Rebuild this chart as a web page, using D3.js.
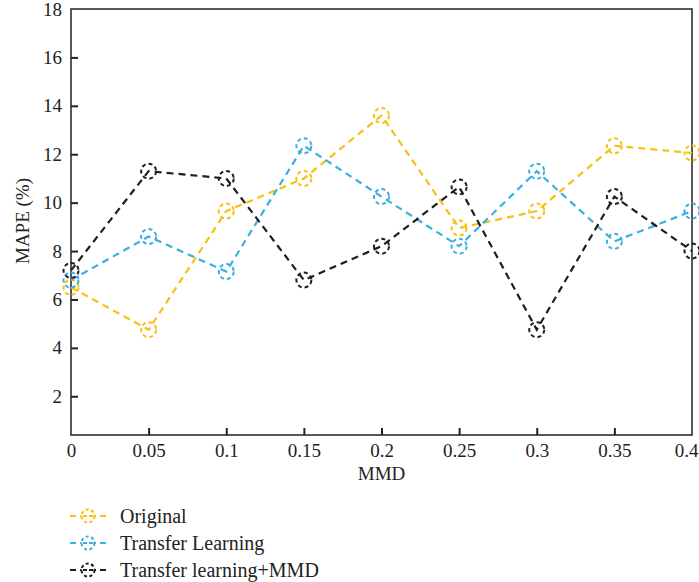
<!DOCTYPE html>
<html>
<head>
<meta charset="utf-8">
<script src="https://cdn.jsdelivr.net/npm/d3@7"></script>
<style>
  body { margin: 0; background: #fff; }
  text { font-family: "Liberation Serif", "DejaVu Serif", serif; fill: #222; }
</style>
</head>
<body>
<script>
// data
var mmd = [0, 0.05, 0.1, 0.15, 0.2, 0.25, 0.3, 0.35, 0.4];
var original = [6.5, 4.75, 9.65, 11.0, 13.6, 8.95, 9.65, 12.35, 12.05];
var transfer = [6.8, 8.6, 7.15, 12.35, 10.25, 8.2, 11.3, 8.4, 9.65];
var transferMMD = [7.2, 11.3, 11.0, 6.8, 8.2, 10.65, 4.75, 10.25, 8.0];
var seriesNames = ["Original", "Transfer Learning", "Transfer learning+MMD"];
var yTicks = [2, 4, 6, 8, 10, 12, 14, 16, 18];

var colors = ["#f9bf0f", "#3aafe2", "#1e1e1e"];
var allSeries = [original, transfer, transferMMD];

var W = 699, H = 582;
var margin = {left: 71, right: 7, top: 9, bottom: 147};

var svg = d3.select("body").append("svg")
    .attr("width", W)
    .attr("height", H);

var x = d3.scaleLinear().domain([0, 0.4]).range([margin.left, W - margin.right]);
var y = d3.scaleLinear().domain([0.4, 18]).range([H - margin.bottom, margin.top]);

// frame
svg.append("rect")
    .attr("x", x(0)).attr("y", y(18))
    .attr("width", x(0.4) - x(0)).attr("height", y(0.4) - y(18))
    .attr("fill", "none").attr("stroke", "#222").attr("stroke-width", 1.5);

// y axis
var yAxis = svg.append("g")
    .attr("transform", "translate(" + x(0) + ",0)")
    .call(d3.axisLeft(y).tickValues(yTicks).tickSizeInner(-7).tickSizeOuter(0).tickPadding(9));
yAxis.select(".domain").remove();
yAxis.selectAll("line").attr("stroke", "#222").attr("stroke-width", 2)
    .filter(function(d) { return d === 18; }).remove();
yAxis.selectAll("text").style("font-size", "19px").style("font-family", "Liberation Serif, serif").attr("fill", "#222");

// x axis
var xAxis = svg.append("g")
    .attr("transform", "translate(0," + y(0.4) + ")")
    .call(d3.axisBottom(x).tickValues(mmd).tickFormat(function(d) { return String(+d.toFixed(2)); })
        .tickSizeInner(-7).tickSizeOuter(0).tickPadding(9));
xAxis.select(".domain").remove();
xAxis.selectAll("line").attr("stroke", "#222").attr("stroke-width", 2)
    .filter(function(d) { return d === 0 || d === 0.4; }).remove();
xAxis.selectAll("text").style("font-size", "19px").style("font-family", "Liberation Serif, serif").attr("fill", "#222");
// last label sits against the right edge
xAxis.selectAll("text").filter(function(d) { return d === 0.4; })
    .attr("text-anchor", "end").attr("x", W - 1 - x(0.4));

// axis titles
svg.append("text")
    .attr("x", (x(0) + x(0.4)) / 2).attr("y", 480)
    .attr("text-anchor", "middle").style("font-size", "19px")
    .text("MMD");

svg.append("text")
    .attr("transform", "translate(29," + 221 + ") rotate(-90)")
    .attr("text-anchor", "middle").style("font-size", "19px")
    .text("MAPE (%)");

// lines
var line = d3.line()
    .x(function(d, i) { return x(mmd[i]); })
    .y(function(d) { return y(d); });

allSeries.forEach(function(s, k) {
  var g = svg.append("g");
  g.append("path")
      .datum(s)
      .attr("d", line)
      .attr("fill", "none")
      .attr("stroke", colors[k])
      .attr("stroke-width", 2.2)
      .attr("stroke-dasharray", "7,5");
  g.selectAll("circle")
      .data(s)
    .enter().append("circle")
      .attr("cx", function(d, i) { return x(mmd[i]); })
      .attr("cy", function(d) { return y(d); })
      .attr("r", 7.5)
      .attr("fill", "none")
      .attr("stroke", colors[k])
      .attr("stroke-width", 2)
      .attr("stroke-dasharray", "4,3");
});

// legend
var legend = svg.selectAll(".legend")
    .data(seriesNames)
  .enter().append("g")
    .attr("class", "legend")
    .attr("transform", function(d, i) { return "translate(0," + (516 + i * 27) + ")"; });

legend.append("line")
    .attr("x1", 70).attr("x2", 106).attr("y1", 0).attr("y2", 0)
    .attr("stroke", function(d, i) { return colors[i]; })
    .attr("stroke-width", 2.2)
    .attr("stroke-dasharray", "6,4");
legend.append("circle")
    .attr("cx", 88).attr("cy", 0).attr("r", 6.5)
    .attr("fill", "#fff")
    .attr("stroke", function(d, i) { return colors[i]; })
    .attr("stroke-width", 2)
    .attr("stroke-dasharray", "3,2.5");
legend.append("line")
    .attr("x1", 83).attr("x2", 93).attr("y1", 0).attr("y2", 0)
    .attr("stroke", function(d, i) { return colors[i]; })
    .attr("stroke-width", 2)
    .attr("stroke-dasharray", "4,2");
legend.append("text")
    .attr("x", 120).attr("y", 0).attr("dy", "0.35em")
    .style("font-size", "20px")
    .text(function(d) { return d; });
</script>
</body>
</html>
